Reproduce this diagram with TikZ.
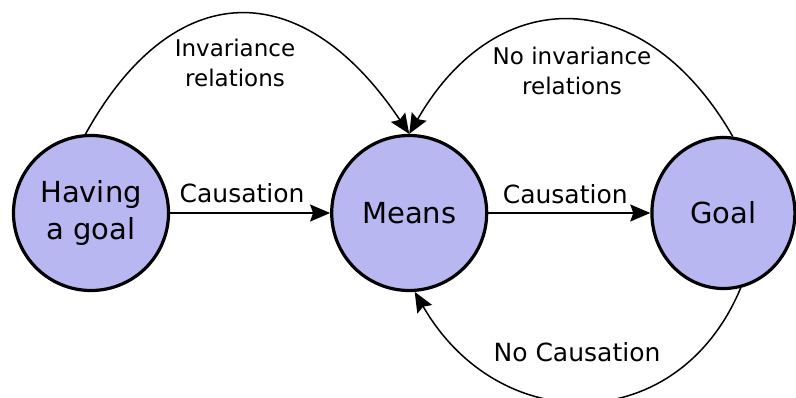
\documentclass[tikz,border=0pt]{standalone}
\usepackage{fontspec}
\setmainfont{DejaVu Sans}
\usetikzlibrary{shapes.geometric, arrows.meta, positioning}
\definecolor{cState}{RGB}{185, 183, 242}

\begin{document}
\begin{tikzpicture}[
    x=1pt, y=1pt,
    >={Stealth[length=20pt, width=17pt, inset=3pt]},
    state/.style={
        circle,
        draw=black,
        fill=cState,
        line width=3.2pt,
        minimum size=155pt,
        inner sep=0pt,
        align=center,
        font=\fontsize{29}{37}\selectfont
    },
    arrow/.style={->, line width=1.5pt},
    lbl/.style={align=center, inner sep=0pt, font=\fontsize{23}{30}\selectfont},
    elbl/.style={inner sep=0pt, font=\fontsize{25}{30}\selectfont}
]

\useasboundingbox (0,0) rectangle (796,397);

\node[state] (having) at (91,184) {Having\\a goal};
\node[state, right=160pt of having] (means) {Means};
\node[state, ellipse, minimum width=143pt, minimum height=151pt, right=162pt of means] (goal) {Goal};

\draw[arrow] (having) -- node[elbl, pos=0.45, above=9pt] (cause1) {Causation} (means);
\draw[arrow] (means) -- node[elbl, pos=0.475, above=8pt] (cause2) {Causation} (goal);

\draw[arrow] (having.94) .. controls +(88,159) and +(-107,160) .. (means.north);
\draw[arrow] (goal.83) .. controls +(-88,153) and +(88,153) .. (means.north);
\draw[arrow] (goal.-77) .. controls +(-62,-149) and +(85,-147) .. (means.-86);

\node[lbl] (invar) at (235,334) {Invariance\\relations};
\node[lbl] (noinvar) at (572,326) {No invariance\\relations};
\node[elbl] (nocause) at (577,44.5) {No Causation};

\end{tikzpicture}
\end{document}
